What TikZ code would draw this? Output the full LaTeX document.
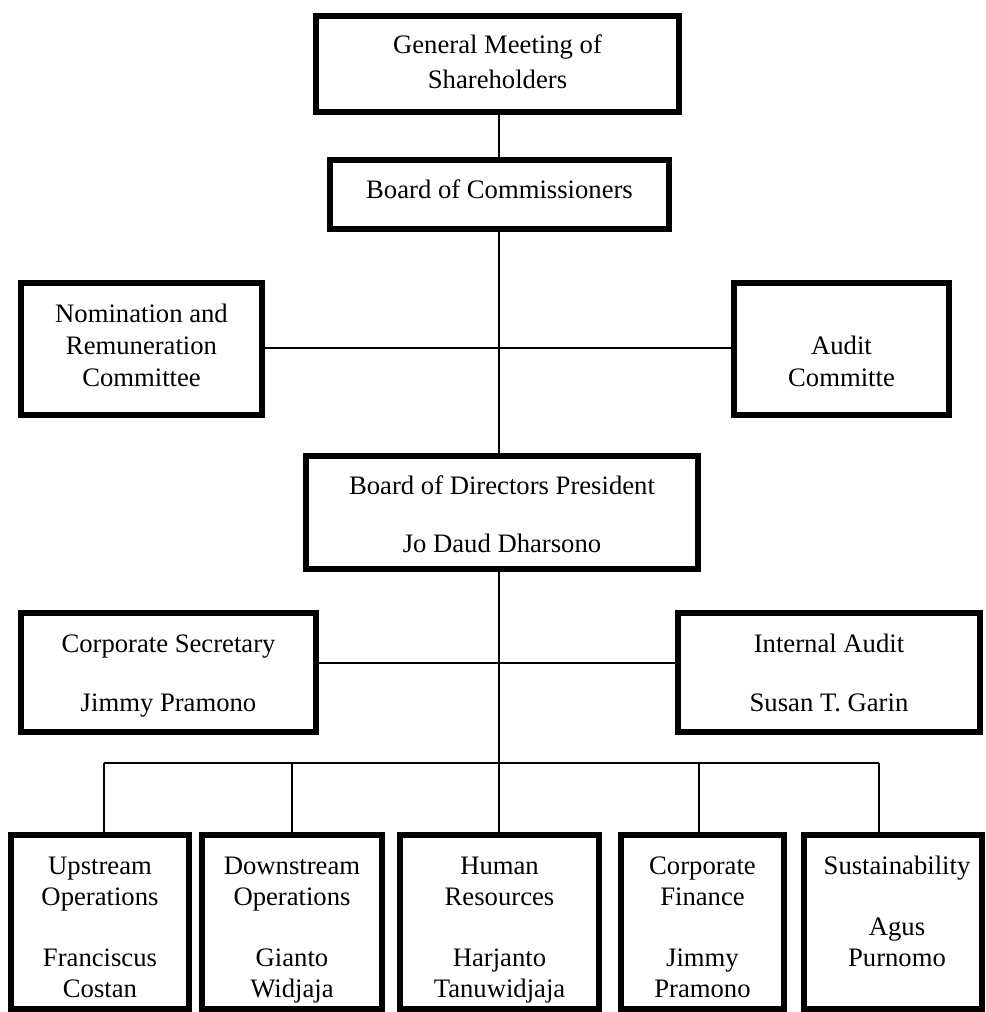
\documentclass[tikz,border=0pt]{standalone}
\usepackage{fontspec}
\setmainfont{Liberation Serif}
\begin{document}
\begin{tikzpicture}[x=0.75pt,y=-0.75pt,
  box/.style={draw, line width=4.5pt, inner sep=0pt},
  lbl/.style={anchor=base, align=center, inner sep=0pt,
    font=\fontsize{20}{23}\selectfont},
  link/.style={line width=1.5pt}]
% page frame
\useasboundingbox (0,0) rectangle (985,1012);
% box given by its outer edges (x1,y1) - (x2,y2)
\newcommand{\orgbox}[5]{%
  \node[box, minimum width={(#4-#2-6)*0.75pt}, minimum height={(#5-#3-6)*0.75pt}]
    (#1) at ({(#2+#4)/2},{(#3+#5)/2}) {};}
\orgbox{gm}{313}{13}{682}{115}
\orgbox{boc}{327}{157}{672}{232}
\orgbox{nom}{18}{280}{265}{418}
\orgbox{aud}{731}{280}{952}{418}
\orgbox{bod}{303}{453}{701}{572}
\orgbox{sec}{18}{610}{319}{735}
\orgbox{ia}{675}{610}{983}{735}
\orgbox{up}{8}{832}{192}{1012}
\orgbox{down}{199}{832}{385}{1012}
\orgbox{hr}{397}{832}{602}{1012}
\orgbox{cf}{618}{832}{787}{1012}
\orgbox{sus}{801}{832}{985}{1012}
% texts, each placed by the baseline of its last line
\node[lbl] (tgm) at (497.5,89) {General Meeting of\\[3.25pt]Shareholders};
\node[lbl] (tboc) at (499.5,199) {Board of Commissioners};
\node[lbl] (tnom) at (141.5,386) {Nomination and\\[1pt]Remuneration\\[1pt]Committee};
\node[lbl] (taud) at (841.5,386) {Audit\\[1pt]Committe};
\node[lbl] (tbod) at (502,552) {Board of Directors President\\[20.5pt]Jo Daud Dharsono};
\node[lbl] (tsec) at (168.5,711) {Corporate Secretary\\[21.25pt]Jimmy Pramono};
\node[lbl] (tia) at (829,711) {Internal Audit\\[21.25pt]Susan T. Garin};
\node[lbl] (tup) at (100,997) {Upstream\\Operations\\[23pt]Franciscus\\Costan};
\node[lbl] (tdown) at (292,997) {Downstream\\Operations\\[23pt]Gianto\\Widjaja};
\node[lbl] (thr) at (499.5,997) {Human\\Resources\\[23pt]Harjanto\\Tanuwidjaja};
\node[lbl] (tcf) at (702.5,997) {Corporate\\Finance\\[23pt]Jimmy\\Pramono};
\node[lbl] (tsus) at (897,966) {Sustainability\\[23pt]Agus\\Purnomo};
% reference points for the connector lines
\coordinate (tx) at (498.5,0);
\coordinate (cmt) at (0,348);
\coordinate (mid) at (0,663);
\coordinate (b1) at (104,763);
\coordinate (b2) at (292,763);
\coordinate (b3) at (498.5,763);
\coordinate (b4) at (699,763);
\coordinate (b5) at (879,763);
% connectors
\draw[link] (tx |- gm.south) -- (tx |- boc.north);
\draw[link] (tx |- boc.south) -- (tx |- bod.north);
\draw[link] (nom.east |- cmt) -- (aud.west |- cmt);
\draw[link] (tx |- bod.south) -- (b3);
\draw[link] (sec.east |- mid) -- (ia.west |- mid);
\draw[link] (b1) -- (b5);
\draw[link] (b1) -- (b1 |- up.north);
\draw[link] (b2) -- (b2 |- down.north);
\draw[link] (b3) -- (b3 |- hr.north);
\draw[link] (b4) -- (b4 |- cf.north);
\draw[link] (b5) -- (b5 |- sus.north);
\end{tikzpicture}
\end{document}
